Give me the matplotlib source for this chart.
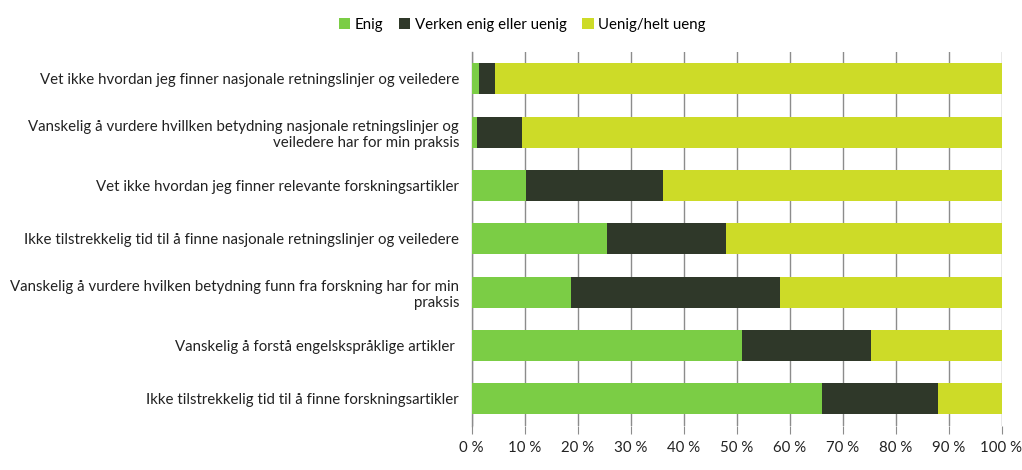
import matplotlib
matplotlib.use("Agg")
import matplotlib.pyplot as plt
import numpy as np

categories = [
    "Vet ikke hvordan jeg finner nasjonale retningslinjer og veiledere",
    "Vanskelig å vurdere hvillken betydning nasjonale retningslinjer og\nveiledere har for min praksis",
    "Vet ikke hvordan jeg finner relevante forskningsartikler",
    "Ikke tilstrekkelig tid til å finne nasjonale retningslinjer og veiledere",
    "Vanskelig å vurdere hvilken betydning funn fra forskning har for min\npraksis",
    "Vanskelig å forstå engelskspråklige artikler ",
    "Ikke tilstrekkelig tid til å finne forskningsartikler",
]
series_names = ["Enig", "Verken enig eller uenig", "Uenig/helt ueng"]
enig = [1.5, 1.0, 10.2, 25.5, 18.7, 51.0, 66.1]
verken = [2.9, 8.5, 25.9, 22.5, 39.6, 24.4, 21.9]
uenig = [100 - a - b for a, b in zip(enig, verken)]
xticks = [0, 10, 20, 30, 40, 50, 60, 70, 80, 90, 100]
colors = ["#7BCD45", "#2F3829", "#CDDB28"]

plt.rcParams['font.family'] = ['Lato', 'DejaVu Sans']

fig = plt.figure(figsize=(10.22, 4.70), dpi=100)
ax = fig.add_axes([471.5/1022, 44.4/470, 530/1022, 373.3/470])

y = np.arange(len(categories))
left = np.zeros(len(categories))
handles = []
for vals, name, c in zip([enig, verken, uenig], series_names, colors):
    h = ax.barh(y, vals, left=left, height=0.58, color=c, label=name, zorder=3)
    handles.append(h)
    left = left + np.array(vals)

ax.set_xlim(0, 100)
ax.set_ylim(len(categories) - 0.5, -0.5)
ax.set_xticks(xticks)
ax.set_xticklabels([f"{t} %" for t in xticks])
ax.set_yticks(y)
ax.set_yticklabels(categories)
ax.grid(axis='x', color='#8C8C8C', linewidth=1.0, zorder=0)
for s in ['top', 'right', 'bottom']:
    ax.spines[s].set_visible(False)
ax.spines['left'].set_color('#8C8C8C')
ax.spines['left'].set_linewidth(1.0)
ax.tick_params(axis='x', length=6, color='#8C8C8C', pad=5, labelsize=10.8, labelcolor='#222222')
ax.tick_params(axis='y', length=0, pad=9, labelsize=10.8, labelcolor='#222222')

fig.legend(handles, series_names, loc='upper center', bbox_to_anchor=(0.511, 0.99), ncol=3,
           frameon=False, fontsize=10.8, handlelength=0.75, handleheight=0.75,
           handletextpad=0.3, columnspacing=1.05)

fig.savefig("out.png", dpi=100)
